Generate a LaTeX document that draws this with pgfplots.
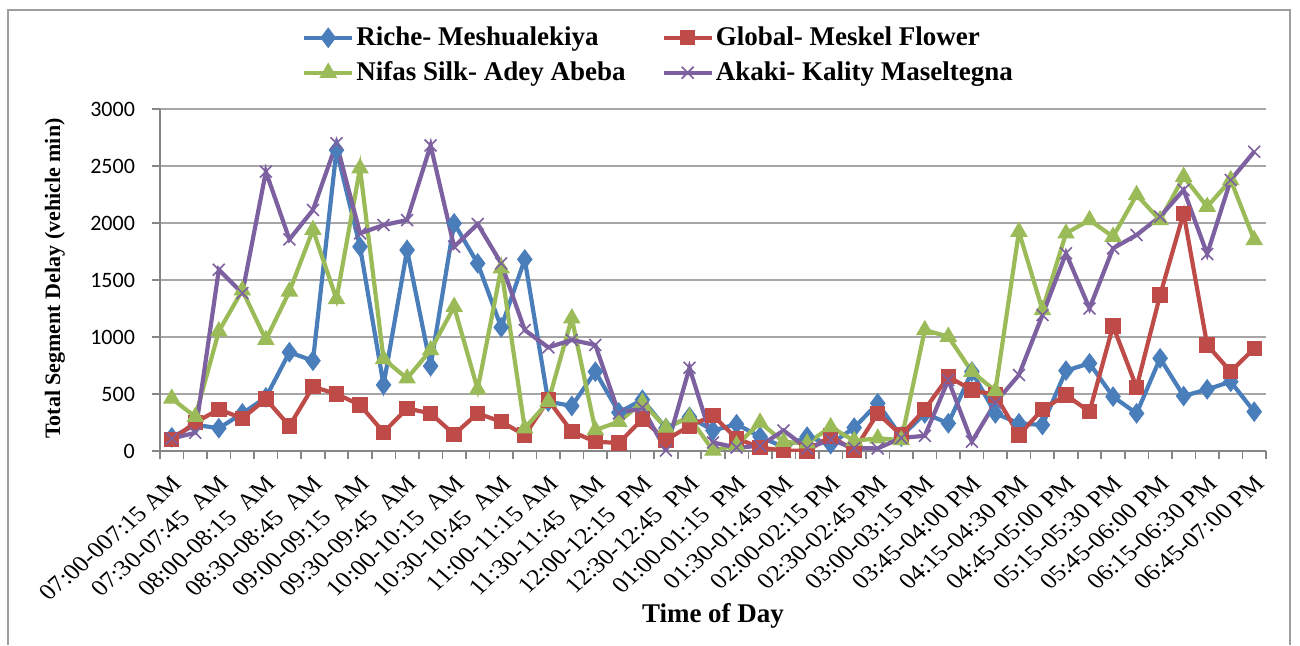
\documentclass[border=0pt]{standalone}
\usepackage{fontspec}
\setmainfont{Liberation Serif}
\newfontfamily\carlito{Carlito}
\usepackage{pgfplots}
\pgfplotsset{compat=1.18}
\usepackage{pgfplotstable}
\definecolor{cblue}{HTML}{4A7EBB}
\definecolor{cred}{HTML}{BE4B48}
\definecolor{cgreen}{HTML}{9BBB59}
\definecolor{cpurple}{HTML}{7D60A0}
\definecolor{gridgray}{HTML}{A6A6A6}
\definecolor{axisgray}{HTML}{868686}
\pgfplotstableread{
i b r g p
0 120 100 460 110
1 230 250 300 160
2 200 365 1050 1590
3 330 287 1410 1385
4 470 456 975 2450
5 866 219 1400 1857
6 792 564 1940 2114
7 2640 500 1333 2700
8 1792 404 2480 1909
9 580 164 807 1982
10 1763 374 637 2026
11 745 330 885 2680
12 1997 146 1265 1792
13 1646 330 541 1991
14 1085 257 1602 1646
15 1681 140 199 1061
16 433 447 433 909
17 395 170 1164 974
18 696 82 184 930
19 338 70 257 330
20 450 280 425 380
21 200 96 205 5
22 300 220 295 730
23 180 310 5 75
24 235 111 50 30
25 126 30 250 45
26 35 5 80 180
27 126 0 67 23
28 60 130 210 100
29 205 5 90 25
30 418 330 111 23
31 126 140 96 115
32 330 365 1061 133
33 243 652 1003 623
34 696 535 696 82
35 330 491 527 425
36 243 140 1924 667
37 228 365 1237 1193
38 705 491 1909 1734
39 769 345 2026 1251
40 477 1097 1880 1778
41 330 558 2246 1895
42 813 1368 2026 2056
43 482 2085 2406 2290
44 541 930 2143 1728
45 608 696 2377 2377
46 345 901 1851 2626
}\data
\begin{document}
\begin{tikzpicture}
\path[use as bounding box] (-80pt,-97pt) rectangle (570pt,225.5pt);
\begin{axis}[
  at={(0,0)}, anchor=south west, scale only axis,
  width=553pt, height=171pt,
  xmin=-0.5, xmax=46.5, ymin=0, ymax=3000,
  ytick={0,500,...,3000},
  minor ytick={0,500,...,3000},
  xtick={0,2,...,46},
  minor xtick={-0.5,0.5,...,46.5},
  xticklabels={07:00-007:15 AM,07:30-07:45\ \ AM,08:00-08:15\ \ AM,08:30-08:45\ \ AM,09:00-09:15\ \ AM,09:30-09:45\ \ AM,10:00-10:15\ \ AM,10:30-10:45\ \ AM,11:00-11:15 AM,11:30-11:45\ \ AM,12:00-12:15\ \ PM,12:30-12:45\ \ PM,01:00-01:15\ \ PM,01:30-01:45 PM,02:00-02:15 PM,02:30-02:45 PM,03:00-03:15 PM,03:45-04:00 PM,04:15-04:30 PM,04:45-05:00 PM,05:15-05:30 PM,05:45-06:00 PM,06:15-06:30 PM,06:45-07:00 PM},
  axis x line*=bottom, axis y line*=left,
  axis line style={draw=axisgray, line width=0.9pt},
  ymajorgrids, grid style={gridgray, line width=0.75pt},
  tick align=outside,
  major tick length=0pt, minor tick length=4pt,
  tick style={axisgray, line width=0.8pt},
  /pgf/number format/assume math mode=true,
  /pgf/number format/1000 sep={},
  yticklabel style={font=\carlito\fontsize{11}{13}\selectfont, inner sep=0pt, anchor=east, xshift=-11.5pt},
  xticklabel style={font=\fontsize{11.3}{13.5}\selectfont, inner sep=0pt, xshift=-0.5pt, yshift=-10.5pt, xscale=1.15, rotate=45, anchor=north east},
  xlabel={Time of Day},
  ylabel={Total Segment Delay (vehicle min)},
  x label style={font=\bfseries\fontsize{13.5}{15}\selectfont, at={(axis description cs:0.5,-0.482)}, anchor=center},
  y label style={font=\bfseries\fontsize{11}{13}\selectfont, at={(axis description cs:-0.0949,0.504)}, anchor=center},
  legend columns=2,
  legend cell align=left,
  legend image code/.code={\draw[mark repeat=2,mark phase=2,#1] plot coordinates {(0pt,0pt) (12pt,0pt) (24pt,0pt)};},
  legend style={draw=none, fill=none, at={(0.1266,1.252)}, anchor=north west, inner sep=0pt,
    font=\bfseries\fontsize{13.5}{15}\selectfont, row sep=4.5pt,
    nodes={inner sep=1pt},
    /tikz/every even column/.append style={column sep=17pt}},
  line width=2.1pt,
]
\addplot[cblue, mark=diamond*, mark size=4.8pt, mark options={solid, line width=0.5pt, fill=cblue}] table[x=i,y=b]{\data};
\addlegendentry{Riche- Meshualekiya}
\addplot[cred, mark=square*, mark size=3.6pt, mark options={solid, line width=0.5pt, fill=cred}] table[x=i,y=r]{\data};
\addlegendentry{Global- Meskel Flower}
\addplot[cgreen, mark=triangle*, mark size=4.6pt, mark options={solid, line width=0.5pt, fill=cgreen}] table[x=i,y=g]{\data};
\addlegendentry{Nifas Silk- Adey Abeba}
\addplot[cpurple, mark=x, mark size=4.2pt, mark options={solid, line width=0.8pt}] table[x=i,y=p]{\data};
\addlegendentry{Akaki- Kality Maseltegna}
\end{axis}
\draw[axisgray!80, line width=1pt] (-76pt,-97pt) -- (-76pt,220.5pt) -- (565pt,220.5pt) -- (565pt,-97pt);
\end{tikzpicture}
\end{document}
